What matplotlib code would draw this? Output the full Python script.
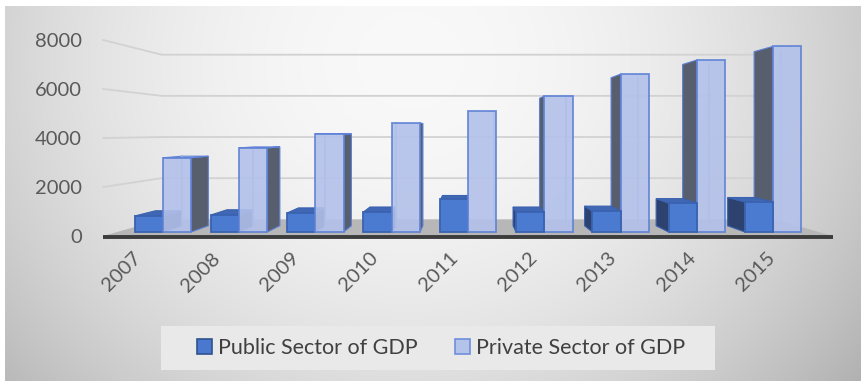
import numpy as np
import matplotlib
matplotlib.use('Agg')
import matplotlib.pyplot as plt
from matplotlib.patches import Polygon, Patch, Rectangle
from matplotlib.transforms import ScaledTranslation

plt.rcParams['font.family'] = ['Lato', 'DejaVu Sans']

years = ['2007', '2008', '2009', '2010', '2011', '2012', '2013', '2014', '2015']
public = [680, 725, 810, 850, 1400, 850, 890, 1230, 1280]
private = [3150, 3570, 4160, 4630, 5140, 5770, 6700, 7300, 7880]
yticks = [0, 2000, 4000, 6000, 8000]
series_names = ['Public Sector of GDP', 'Private Sector of GDP']

# fake 3d: simple perspective toward a vanishing point
VX, VY = 4.0, 4250
S_FRONT, S_BACK, S_WALL = 0.962, 0.902, 0.84
W = 0.37
X0, X1 = -0.6, 8.6


def proj(x, v, s):
    return (VX + (x - VX) * s, VY + (v - VY) * s)


fig = plt.figure(figsize=(8.63, 3.83), dpi=100)
fig.patch.set_facecolor('white')

# background gradient
bg = fig.add_axes([5 / 863, 2 / 383, 855 / 863, 375 / 383])
xx, yy = np.meshgrid(np.linspace(5, 860, 400), np.linspace(6, 381, 200))
r2 = ((xx - 410) / 470) ** 2 + ((yy - 60) / 430) ** 2
g = np.clip(0.975 - 0.19 * r2, 0, 1)
bg.imshow(np.dstack([g, g, g]), aspect='auto', extent=[0, 1, 0, 1], origin='upper')
bg.set_axis_off()

ax = fig.add_axes([100 / 863, 147 / 383, 740 / 863, 196 / 383])
ax.patch.set_alpha(0)
ax.set_xlim(4 + (100 - 468) / 79.3, 4 + (840 - 468) / 79.3)
ax.set_ylim(0, 8000)
for sp in ax.spines.values():
    sp.set_visible(False)

# gridlines: left wall + back wall
for v in yticks[1:]:
    xs, ys = zip(proj(X0, v, 1.0), proj(X0, v, S_WALL), proj(X1, v, S_WALL))
    ax.plot(xs, ys, color='#d2d2d2', lw=1.3, zorder=1, clip_on=False)

# floor
floor = [proj(X0, 0, 1.0), proj(X1, 0, 1.0), proj(X1, 0, S_WALL), proj(X0, 0, S_WALL)]
ax.add_patch(Polygon(floor, closed=True, fc='#b7b7b7', ec='none', zorder=2, clip_on=False))
ax.plot([X0, X1], [-55, -55], color='#3c3c3c', lw=2.8, zorder=2, solid_capstyle='butt', clip_on=False)

styles = {
    0: dict(front='#4b7bd1', edge='#3a62b0', side='#2d426e', top='#3f67b3', alpha=1.0),
    1: dict(front='#b3c1ea', edge='#5f82d6', side='#575e6e', top='#c6d1f2', alpha=0.9),
}

bars = []
for i in range(len(years)):
    bars.append((i - W, i, public[i], 0))
    bars.append((i, i + W, private[i], 1))
bars.sort(key=lambda b: -max(abs(b[0] - VX), abs(b[1] - VX)))

z = 3
for x0, x1, h, k in bars:
    st = styles[k]
    if x1 < VX:
        side = [proj(x1, 0, S_FRONT), proj(x1, 0, S_BACK), proj(x1, h, S_BACK), proj(x1, h, S_FRONT)]
    elif x0 > VX:
        side = [proj(x0, 0, S_FRONT), proj(x0, 0, S_BACK), proj(x0, h, S_BACK), proj(x0, h, S_FRONT)]
    else:
        side = None
    if side:
        ax.add_patch(Polygon(side, closed=True, fc=st['side'], ec=st['edge'], lw=0.8, zorder=z, clip_on=False))
    if h < VY:
        top = [proj(x0, h, S_FRONT), proj(x1, h, S_FRONT), proj(x1, h, S_BACK), proj(x0, h, S_BACK)]
        ax.add_patch(Polygon(top, closed=True, fc=st['top'], ec=st['edge'], lw=0.8, zorder=z, clip_on=False))
    if k == 1:
        # back edge seen through the glassy front
        bx = x0 if x1 <= VX else x1
        pa, pb = proj(bx, 0, S_BACK), proj(bx, h, S_BACK)
        ax.plot([pa[0], pb[0]], [pa[1], pb[1]], color='#9aaee4', lw=1.2, zorder=z, clip_on=False)
    front = [proj(x0, 0, S_FRONT), proj(x1, 0, S_FRONT), proj(x1, h, S_FRONT), proj(x0, h, S_FRONT)]
    ax.add_patch(Polygon(front, closed=True, fc=st['front'], ec=st['edge'], lw=1.3,
                         alpha=st['alpha'], zorder=z, clip_on=False))
    z += 1

ax.set_yticks(yticks)
ax.set_yticklabels([str(v) for v in yticks], fontsize=14.5, color='#595959')
ax.set_xticks(range(len(years)))
ax.set_xticklabels(years, fontsize=14.5, color='#595959', rotation=45,
                   ha='right', va='center', rotation_mode='anchor')
ax.tick_params(axis='y', length=0, pad=13)
ax.tick_params(axis='x', length=0, pad=14)
off = ScaledTranslation(-13 / 100, 0, fig.dpi_scale_trans)
for lab in ax.get_xticklabels():
    lab.set_transform(lab.get_transform() + off)

# legend
fig.patches.append(Rectangle((161 / 863, 1 - 370 / 383), 554 / 863, 44 / 383,
                             transform=fig.transFigure, fc='#e9e9e9', ec='none', zorder=1))
handles = [Patch(fc='#4a78cf', ec='#2f528f', lw=1.2, label=series_names[0]),
           Patch(fc='#b4c3ea', ec='#6f8fdc', lw=1.2, label=series_names[1])]
leg = fig.legend(handles=handles, loc='center', bbox_to_anchor=(441 / 863, 1 - 348 / 383),
                 ncol=2, frameon=False, fontsize=15.5, handlelength=0.7, handleheight=0.7,
                 handletextpad=0.3, columnspacing=1.7, borderpad=0)
for t in leg.get_texts():
    t.set_color('#404040')

fig.savefig('out.png', dpi=100)
